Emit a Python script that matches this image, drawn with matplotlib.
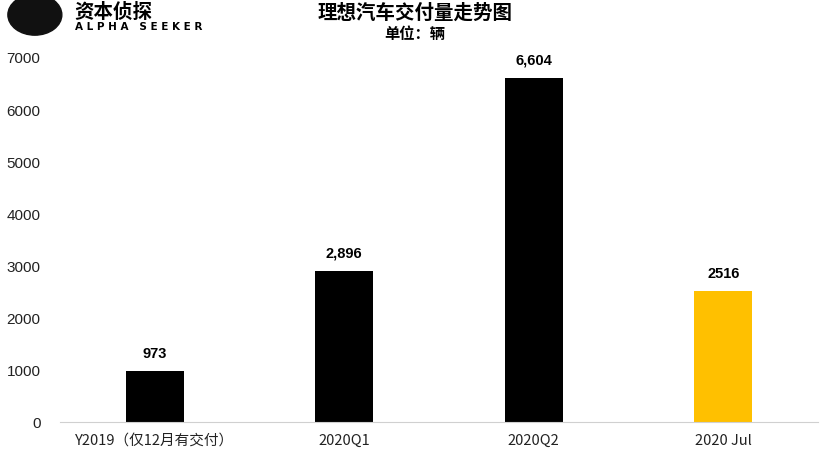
import matplotlib
matplotlib.use("Agg")
import matplotlib.pyplot as plt
import numpy as np

plt.rcParams['font.family'] = ['Noto Sans CJK SC', 'DejaVu Sans']

categories = ["Y2019（仅12月有交付）", "2020Q1", "2020Q2", "2020 Jul"]
deliveries = [973, 2896, 6604, 2516]
valueLabels = ["973", "2,896", "6,604", "2516"]
barColors = ["#000000", "#000000", "#000000", "#FFC000"]
yTicks = [0, 1000, 2000, 3000, 4000, 5000, 6000, 7000]

fig = plt.figure(figsize=(8.3, 4.52), dpi=100)
ax = fig.add_axes([0.0723, 0.0642, 0.9132, 0.8075])

x = np.arange(len(categories))
ax.bar(x, deliveries, width=0.306, color=barColors)
for xi, v, lab in zip(x, deliveries, valueLabels):
    ax.annotate(lab, (xi, v), xytext=(0, 8), textcoords="offset points",
                ha="center", va="bottom", fontsize=10.5, fontweight="bold",
                family=["Liberation Sans", "DejaVu Sans"])

ax.set_xlim(-0.5, len(categories) - 0.5)
ax.set_ylim(0, 7000)
ax.set_yticks(yTicks)
ax.set_yticklabels([str(t) for t in yTicks], family=["Liberation Sans", "DejaVu Sans"], fontsize=11)
ax.set_xticks(x)
ax.set_xticklabels(categories, fontsize=10.5)
ax.tick_params(axis="both", length=0, colors="#222222")
ax.tick_params(axis="y", pad=14)
ax.tick_params(axis="x", pad=8)
for side in ["left", "right", "top"]:
    ax.spines[side].set_visible(False)
ax.spines["bottom"].set_color("#d0d0d0")

# title and unit
fig.text(0.5, 0.972, "理想汽车交付量走势图", ha="center", va="center",
         fontsize=14, fontweight="bold")
fig.text(0.5, 0.925, "单位：辆", ha="center", va="center",
         fontsize=11, fontweight="bold")

# logo
fig.text(0.09, 0.972, "资本侦探", ha="left", va="center", fontsize=14, fontweight="bold")
fig.text(0.09, 0.94, "A L P H A   S E E K E R", ha="left", va="center",
         fontsize=7.5, fontweight="bold", family=["DejaVu Sans"])
fig.patches.append(matplotlib.patches.Ellipse((0.042, 0.965), 0.065, 0.09,
                                              transform=fig.transFigure,
                                              color="#111111"))

fig.savefig("out.png", dpi=100)
